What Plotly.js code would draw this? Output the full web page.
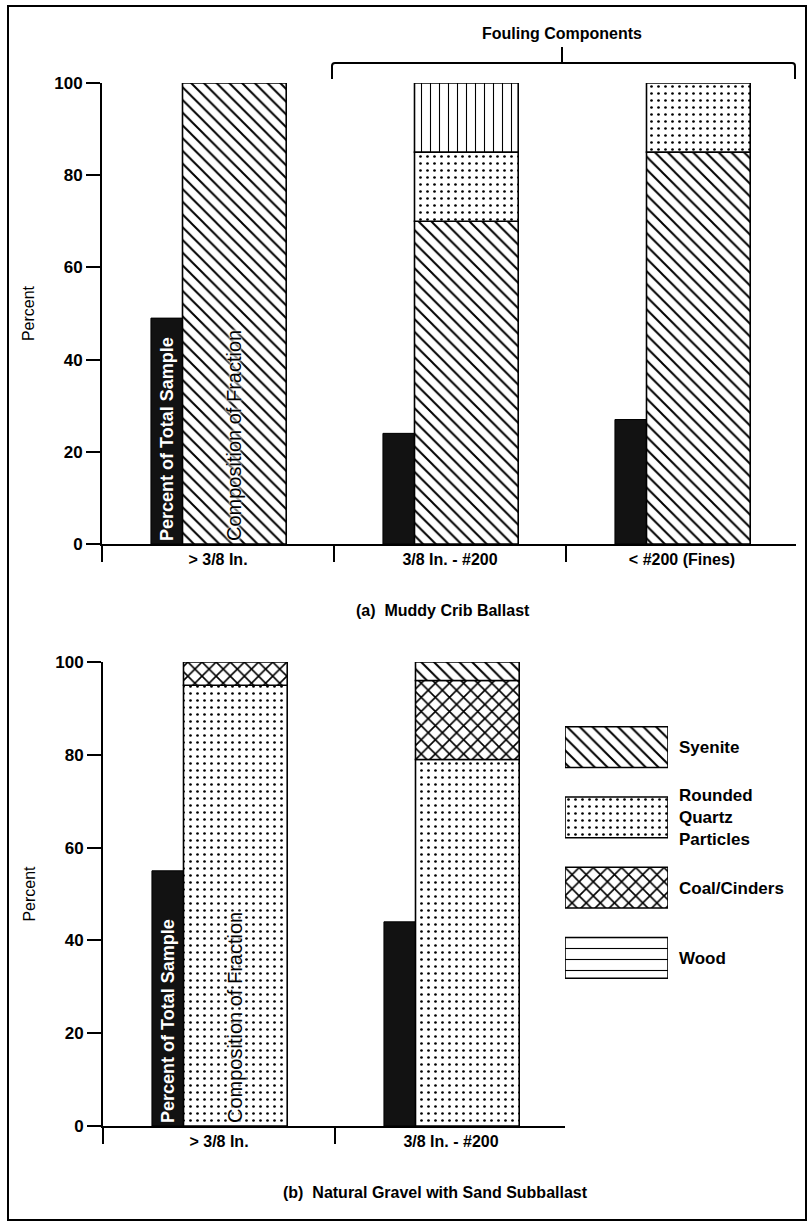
<!DOCTYPE html>
<html><head><meta charset="utf-8">
<script src="https://cdn.plot.ly/plotly-3.0.1.min.js"></script>
<style>html,body{margin:0;padding:0;background:#fff}</style>
</head><body><div id="chart" style="width:811px;height:1226px"></div>
<script>
// ---------------- data ----------------
const categoriesA = ['> 3/8 In.', '3/8 In. - #200', '< #200 (Fines)'];
const percentTotalA = [49, 24, 27];
const syeniteA = [100, 70, 85];
const quartzA  = [0, 15, 15];
const woodA    = [0, 15, 0];

const categoriesB = ['> 3/8 In.', '3/8 In. - #200'];
const percentTotalB = [55, 44];
const quartzB  = [95, 79];
const coalB    = [5, 17];
const syeniteB = [0, 4];

const legendLabels = ['Syenite', 'Rounded<br>Quartz<br>Particles', 'Coal/Cinders', 'Wood'];
const yTicks = [0, 20, 40, 60, 80, 100];

// ---------------- styles ----------------
const W = 811, H = 1226;
const fx = v => v / W, fy = v => 1 - v / H;
const FONT = 'Liberation Sans, Arial, Helvetica, sans-serif';
const patterns = {
  'Syenite':      {shape: '\\', size: 9, solidity: 0.22, fgcolor: '#000', bgcolor: '#fff'},
  'Rounded Quartz Particles': {shape: '.', size: 7, solidity: 0.12, fgcolor: '#000', bgcolor: '#fff'},
  'Coal/Cinders': {shape: 'x', size: 10, solidity: 0.3, fgcolor: '#000', bgcolor: '#fff'},
  'Wood':         {shape: '|', size: 9, solidity: 0.12, fgcolor: '#000', bgcolor: '#fff'},
  'WoodLegend':   {shape: '-', size: 11, solidity: 0.1, fgcolor: '#000', bgcolor: '#fff'}
};
const DARK = {off: -0.289, w: 0.136};
const COMP = {off: -0.153, w: 0.447};
const compTextFont = {family: FONT, size: 20, color: '#000',
  shadow: '0 0 2px #fff, 0 0 3px #fff, 0 0 4px #fff'};
const darkTextFont = {family: FONT, size: 18, color: '#fff', weight: 'bold'};

function darkTrace(cats, vals, xa, ya) {
  return {
    type: 'bar', x: cats, y: vals, xaxis: xa, yaxis: ya,
    offset: DARK.off, width: DARK.w,
    marker: {color: '#121212', line: {color: '#000', width: 1}},
    text: cats.map((c, i) => i === 0 ? 'Percent of Total Sample' : ''),
    textposition: 'inside', textangle: -90, insidetextanchor: 'start',
    insidetextfont: darkTextFont, constraintext: 'none',
    name: 'Percent of Total Sample', showlegend: false, hoverinfo: 'skip'
  };
}
function compTraces(cats, comps, xa, ya) {
  let cum = cats.map(() => 0);
  return comps.map((c, k) => {
    const base = cum.slice();
    cum = cum.map((b, i) => b + c.values[i]);
    return {
      type: 'bar', x: cats, y: c.values.map(v => v > 0 ? v : null), base: base,
      xaxis: xa, yaxis: ya, offset: COMP.off, width: COMP.w,
      marker: {color: '#fff', pattern: patterns[c.name], line: {color: '#000', width: 1.6}},
      text: k === 0 ? cats.map((cc, i) => i === 0 ? 'Composition of Fraction' : '') : undefined,
      textposition: k === 0 ? 'inside' : 'none', textangle: -90, insidetextanchor: 'start',
      insidetextfont: compTextFont, constraintext: 'none',
      name: c.name, showlegend: false, hoverinfo: 'skip'
    };
  });
}

const traces = [
  darkTrace(categoriesA, percentTotalA, 'x', 'y'),
  ...compTraces(categoriesA, [
    {name: 'Syenite', values: syeniteA},
    {name: 'Rounded Quartz Particles', values: quartzA},
    {name: 'Wood', values: woodA}
  ], 'x', 'y'),
  darkTrace(categoriesB, percentTotalB, 'x2', 'y2'),
  ...compTraces(categoriesB, [
    {name: 'Rounded Quartz Particles', values: quartzB},
    {name: 'Coal/Cinders', values: coalB},
    {name: 'Syenite', values: syeniteB}
  ], 'x2', 'y2')
];
// legend swatches
const legendPatternKeys = ['Syenite', 'Rounded Quartz Particles', 'Coal/Cinders', 'WoodLegend'];
legendLabels.forEach((lab, k) => {
  traces.push({
    type: 'bar', orientation: 'h', y: [lab], x: [1], base: [0], width: 0.58,
    xaxis: 'x3', yaxis: 'y3',
    marker: {color: '#fff', pattern: patterns[legendPatternKeys[k]], line: {color: '#000', width: 1.6}},
    showlegend: false, hoverinfo: 'skip', name: lab
  });
});

const xCommon = {
  type: 'category', tickson: 'boundaries', ticks: 'outside', ticklen: 16, tickwidth: 2,
  tickcolor: '#000', showline: true, linewidth: 2, linecolor: '#000', showgrid: false,
  zeroline: false, fixedrange: true,
  tickfont: {family: FONT, size: 16, color: '#000', weight: 'bold'}
};
const yCommon = {
  range: [0, 100], tickvals: yTicks, ticks: 'outside', ticklen: 14, tickwidth: 2,
  tickcolor: '#000', showline: true, linewidth: 2, linecolor: '#000', showgrid: false,
  zeroline: false, fixedrange: true,
  tickfont: {family: FONT, size: 17, color: '#000', weight: 'bold'},
  title: {text: 'Percent', font: {family: FONT, size: 16, color: '#000'}, standoff: 16}
};

const px2 = (x, y) => fx(x) + ',' + fy(y);
const layout = {
  width: W, height: H, margin: {l: 0, r: 0, t: 0, b: 0},
  paper_bgcolor: '#fff', plot_bgcolor: 'rgba(0,0,0,0)',
  barmode: 'overlay', showlegend: false,
  font: {family: FONT, color: '#000'},
  xaxis:  Object.assign({}, xCommon, {domain: [fx(102), fx(102 + 232 * 2.99)], range: [-0.5, 2.49], anchor: 'y'}),
  yaxis:  Object.assign({}, yCommon, {domain: [fy(544), fy(83)], anchor: 'x'}),
  xaxis2: Object.assign({}, xCommon, {domain: [fx(103), fx(103 + 232 * 1.99)], range: [-0.5, 1.49], anchor: 'y2'}),
  yaxis2: Object.assign({}, yCommon, {domain: [fy(1126), fy(662)], anchor: 'x2'}),
  xaxis3: {domain: [fx(565), fx(668)], range: [0, 1], visible: false, anchor: 'y3', fixedrange: true},
  yaxis3: {domain: [fy(993), fy(712)], type: 'category', range: [3.5, -0.5], side: 'right',
           anchor: 'x3', showline: false, ticks: '', showgrid: false, zeroline: false, fixedrange: true,
           ticklabelstandoff: 10,
           tickfont: {family: FONT, size: 17, color: '#000', weight: 'bold'}},
  annotations: [
    {xref: 'paper', yref: 'paper', x: fx(562), y: fy(34), text: 'Fouling Components', showarrow: false,
     font: {family: FONT, size: 16, weight: 'bold'}, xanchor: 'center', yanchor: 'middle'},
    {xref: 'paper', yref: 'paper', x: fx(443), y: fy(610), text: '(a)  Muddy Crib Ballast', showarrow: false,
     font: {family: FONT, size: 16, weight: 'bold'}, xanchor: 'center', yanchor: 'middle'},
    {xref: 'paper', yref: 'paper', x: fx(435), y: fy(1192), text: '(b)  Natural Gravel with Sand Subballast', showarrow: false,
     font: {family: FONT, size: 16, weight: 'bold'}, xanchor: 'center', yanchor: 'middle'}
  ],
  shapes: [
    {type: 'rect', xref: 'paper', yref: 'paper', x0: fx(8), x1: fx(806), y0: fy(1220), y1: fy(6),
     line: {color: '#000', width: 2}},
    {type: 'path', xref: 'paper', yref: 'paper', line: {color: '#000', width: 2},
     path: 'M' + px2(332, 79) + ' L' + px2(332, 66) + ' Q' + px2(332, 63) + ' ' + px2(335, 63) +
           ' L' + px2(792, 63) + ' Q' + px2(795, 63) + ' ' + px2(795, 66) + ' L' + px2(795, 79)},
    {type: 'line', xref: 'paper', yref: 'paper', x0: fx(562), x1: fx(562), y0: fy(63), y1: fy(47),
     line: {color: '#000', width: 2}}
  ]
};

Plotly.newPlot('chart', traces, layout, {staticPlot: true, displayModeBar: false});
</script>
</body></html>
